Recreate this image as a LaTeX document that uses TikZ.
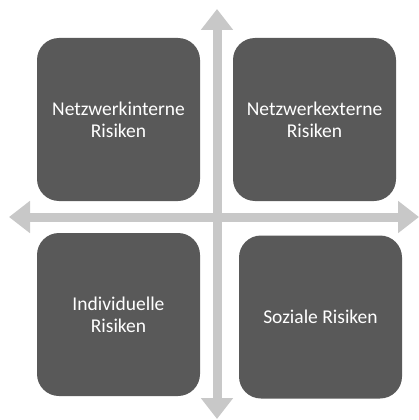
\documentclass[tikz,border=0pt]{standalone}
\usepackage{fontspec}
\setmainfont{Carlito}
\usepackage{xcolor}
\usepackage{tikz}
\usetikzlibrary{positioning, arrows.meta}

\definecolor{boxgray}{HTML}{595959}
\definecolor{axisgray}{HTML}{C8C8C8}

\begin{document}
\begin{tikzpicture}[
        x=1pt, y=-1pt,
        on grid,
        risk/.style={fill=boxgray, draw=none, rounded corners=22pt,
          minimum width=163pt, minimum height=163pt, inner sep=0pt,
          align=center, text=white,
          font=\fontsize{19.5}{21.8}\selectfont},
        axis/.style={draw=axisgray, line width=9pt,
          {Triangle[length=21pt, width=31pt]}-{Triangle[length=21pt, width=31pt]}},
      ]

      \useasboundingbox (0,0) rectangle (419,420);

      % axes
      \coordinate (top)    at (217,9);
      \coordinate (bottom) at (217,419);
      \coordinate (left)   at (9,217);
      \coordinate (right)  at (419,217);

      \draw[axis] (left) -- (right);
      \draw[axis] (top) -- (bottom);

      % quadrants
      \node[risk] (intern) at (118.5,119.5) {Netzwerkinterne\\Risiken};
      \node[risk, right=196pt of intern] (extern) {Netzwerkexterne\\Risiken};
      \node[risk, below=195pt of intern] (indiv) {Individuelle\\Risiken};
      \node[risk, below right=197.5pt and 202pt of intern] (sozial) {Soziale Risiken};

    \end{tikzpicture}
\end{document}
